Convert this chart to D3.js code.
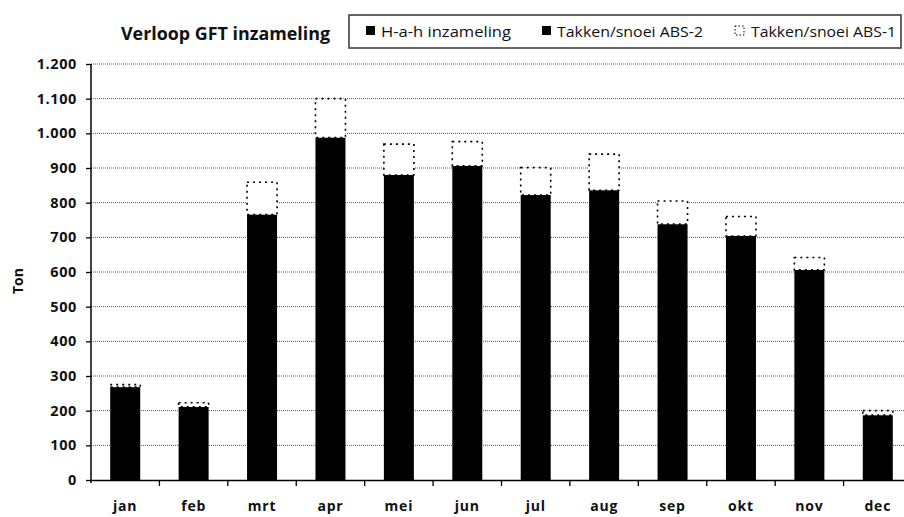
<!DOCTYPE html>
<html><head><meta charset="utf-8">
<script src="https://cdn.jsdelivr.net/npm/d3@7"></script>
<style>body{margin:0;background:#fff}svg{display:block}text{font-family:"Open Sans",Lato,sans-serif;fill:#111}</style>
</head><body>
<svg id="c" width="904" height="517"></svg>
<script>
const months = ["jan","feb","mrt","apr","mei","jun","jul","aug","sep","okt","nov","dec"];
const hah  = [268, 211, 766, 988, 880, 906, 822, 836, 738, 704, 606, 187];
const abs2 = [0, 0, 0, 0, 0, 0, 0, 0, 0, 0, 0, 0];
const abs1 = [7, 12, 93, 112, 89, 70, 79, 104, 67, 56, 36, 13];
const yTicks = [0,100,200,300,400,500,600,700,800,900,1000,1100,1200];
const seriesNames = ["H-a-h inzameling","Takken/snoei ABS-2","Takken/snoei ABS-1"];

const svg = d3.select("#c");
const m = {l:91, r:912, t:64, b:480};
const x = d3.scaleBand().domain(months).range([m.l, m.r]).paddingInner(0).paddingOuter(0);
const y = d3.scaleLinear().domain([0,1200]).range([m.b, m.t]);
const fmt = v => d3.format(",")(v).replace(/,/g,".");

// gridlines
svg.append("g").selectAll("line").data(yTicks.filter(d=>d>0)).join("line")
  .attr("x1", m.l).attr("x2", 904).attr("y1", d=>y(d)).attr("y2", d=>y(d))
  .attr("stroke","#555").attr("stroke-width",1).attr("stroke-dasharray","1,1");

// stacked data
const rows = months.map((mo,i)=>({m:mo, a:hah[i], b:abs2[i], c:abs1[i]}));
const stack = d3.stack().keys(["a","b","c"])(rows);
const bw = 30;
const bx = d => x(d.data.m) + x.bandwidth()/2 - bw/2;
const g = svg.append("g");
stack.forEach((layer,k)=>{
  g.selectAll(null).data(layer).join("rect")
    .attr("x", bx).attr("width", bw)
    .attr("y", d=>y(d[1])).attr("height", d=>Math.max(0,y(d[0])-y(d[1])))
    .attr("fill", k<2 ? "#000" : "#fff")
    .attr("stroke", k<2 ? "none" : "#000")
    .attr("stroke-width", k<2 ? 0 : 1.6)
    .attr("stroke-dasharray", k<2 ? null : "2,4");
});

// y axis
const ya = svg.append("g").attr("transform",`translate(${m.l},0)`)
  .call(d3.axisLeft(y).tickValues(yTicks).tickFormat(fmt).tickSize(5).tickPadding(9));
ya.select(".domain").attr("stroke","#000").attr("stroke-width",1.5).attr("d",`M-0,${m.t}V${m.b+3}`);
ya.selectAll(".tick line").attr("stroke","#000").attr("stroke-width",1.3);
ya.selectAll("text").attr("font-size",14.5).attr("font-weight","bold").attr("fill","#111")
  .attr("letter-spacing",0.6);

// x axis
const xa = svg.append("g").attr("transform",`translate(0,${m.b})`)
  .call(d3.axisBottom(x).tickSize(0).tickPadding(21));
xa.select(".domain").attr("stroke","#000").attr("stroke-width",1.5);
xa.selectAll("text").attr("font-size",14).attr("font-weight","bold").attr("fill","#111")
  .attr("letter-spacing",0.8);
svg.append("g").selectAll("line").data(months.slice(1).concat(["end"])).join("line")
  .attr("x1",(d,i)=>m.l + (i+1)*x.bandwidth()).attr("x2",(d,i)=>m.l + (i+1)*x.bandwidth())
  .attr("y1",m.b).attr("y2",m.b+6).attr("stroke","#000").attr("stroke-width",1.3);

// y title
svg.append("text").attr("transform","translate(23,281) rotate(-90)")
  .attr("text-anchor","middle").attr("font-size",14).attr("font-weight","bold").text("Ton");

// title
svg.append("text").attr("x",121).attr("y",40).attr("font-size",17.5).attr("font-weight","bold")
  .attr("textLength",209).attr("lengthAdjust","spacingAndGlyphs").text("Verloop GFT inzameling");

// legend
svg.append("rect").attr("x",349).attr("y",15).attr("width",552).attr("height",33)
  .attr("fill","#fff").attr("stroke","#333").attr("stroke-width",1.5);
const lx = [366, 542, 735];
const lw = [130, 146, 145];
const lg = svg.append("g");
seriesNames.forEach((n,i)=>{
  lg.append("rect").attr("x",lx[i]).attr("y",26).attr("width",9).attr("height",9)
    .attr("fill", i<2 ? "#000" : "#fff").attr("stroke", i<2 ? "none":"#000")
    .attr("stroke-dasharray", i<2 ? null : "1.5,2");
  lg.append("text").attr("x",lx[i]+(i===2?16:15)).attr("y",36.5).attr("font-size",14.5)
    .attr("textLength",lw[i]).attr("lengthAdjust","spacingAndGlyphs").text(n);
});
</script>
</body></html>
